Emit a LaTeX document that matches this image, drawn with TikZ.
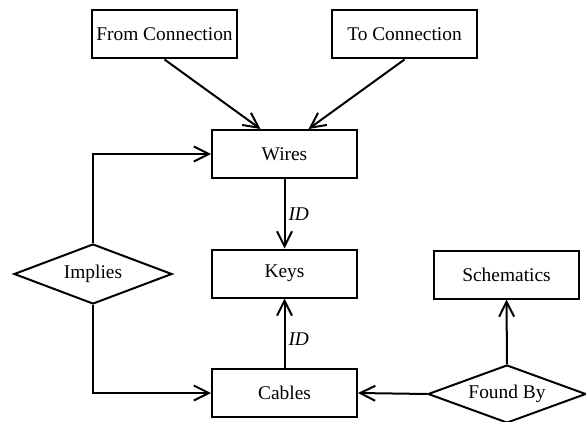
\documentclass[tikz,border=0pt]{standalone}
\usepackage{fontspec}
\setmainfont{Liberation Serif}
\usetikzlibrary{arrows.meta,shapes.geometric}

\begin{document}
\begin{tikzpicture}[
  x=1pt, y=1pt,
  every node/.style={font=\fontsize{19.4}{23}\selectfont},
  entity/.style={draw, line width=2pt, minimum width=145pt, minimum height=48pt, inner sep=0pt},
  relation/.style={draw, diamond, aspect=2.6, line width=2pt, minimum width=158pt, minimum height=60pt, inner sep=0pt},
  link/.style={line width=2pt, -{Straight Barb[length=15pt,width=15pt]}},
  attr/.style={font=\fontsize{19.4}{23}\selectfont\itshape, inner sep=3pt},
]
\useasboundingbox (0,0) rectangle (586,421);

% entities
\foreach \nm/\pos/\txt in {from/{164.5,386.5}/From Connection,to/{404.5,386.5}/To Connection,
  wires/{284.5,267}/Wires,keys/{284.5,147.5}/Keys,schem/{506.5,146.5}/Schematics,cables/{284.5,28}/Cables}
{
  \node[entity] (\nm) at (\pos) {\txt};
}

% relationships
\node[relation] (implies) at (93,147) {Implies};
\node[relation, minimum height=58pt] (found) at (507,27) {Found By};

\draw[link] (from.south) -- ([xshift=-24pt]wires.north);
\draw[link] (to.south) -- ([xshift=24pt]wires.north);
\draw[link] (wires) -- node[attr, right] {ID} (keys);
\draw[link] (cables) -- node[attr, right, pos=0.42] {ID} (keys);
\draw[link] (implies.north) |- (wires.west);
\draw[link] (implies.south) |- (cables.west);
\draw[link] (found.north) -- (schem.south);
\draw[link] (found.west) -- (cables.east);
\end{tikzpicture}
\end{document}
